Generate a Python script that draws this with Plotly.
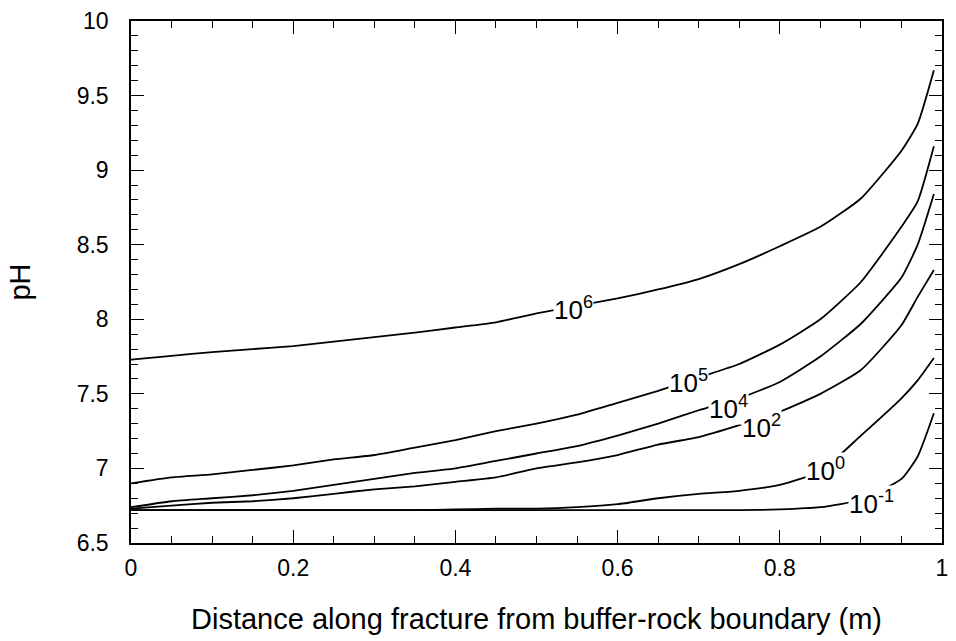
import plotly.graph_objects as go

x = [0, 0.05, 0.1, 0.15, 0.2, 0.25, 0.3, 0.35, 0.4, 0.45, 0.5, 0.55, 0.6,
     0.65, 0.7, 0.75, 0.8, 0.85, 0.9, 0.95, 0.97, 0.99]

ph_1e6 = [7.73, 7.755, 7.78, 7.80, 7.82, 7.85, 7.88, 7.91, 7.945, 7.98, 8.04, 8.09, 8.14,
          8.20, 8.27, 8.37, 8.49, 8.62, 8.81, 9.13, 9.31, 9.67]
ph_1e5 = [6.90, 6.94, 6.96, 6.99, 7.02, 7.06, 7.09, 7.14, 7.19, 7.25, 7.30, 7.36, 7.44,
          7.52, 7.61, 7.70, 7.83, 8.00, 8.25, 8.62, 8.79, 9.16]
ph_1e4 = [6.74, 6.78, 6.80, 6.82, 6.85, 6.89, 6.93, 6.97, 7.00, 7.05, 7.10, 7.15, 7.22,
          7.30, 7.39, 7.47, 7.58, 7.75, 7.97, 8.28, 8.50, 8.84]
ph_1e2 = [6.73, 6.75, 6.77, 6.78, 6.80, 6.83, 6.86, 6.88, 6.91, 6.94, 7.00, 7.04, 7.09,
          7.16, 7.21, 7.29, 7.38, 7.50, 7.66, 7.96, 8.15, 8.33]
ph_1e0 = [6.72, 6.72, 6.72, 6.72, 6.72, 6.72, 6.72, 6.72, 6.725, 6.73, 6.73, 6.74, 6.76,
          6.80, 6.83, 6.85, 6.89, 6.98, 7.22, 7.47, 7.59, 7.74]
ph_1em1 = [6.72, 6.72, 6.72, 6.72, 6.72, 6.72, 6.72, 6.72, 6.72, 6.72, 6.72, 6.72, 6.72,
           6.72, 6.72, 6.72, 6.725, 6.74, 6.79, 6.93, 7.08, 7.37]

series = [ph_1e6, ph_1e5, ph_1e4, ph_1e2, ph_1e0, ph_1em1]
labels = ["10<sup>6</sup>", "10<sup>5</sup>", "10<sup>4</sup>", "10<sup>2</sup>",
          "10<sup>0</sup>", "10<sup>-1</sup>"]
label_x = [0.546, 0.687, 0.737, 0.777, 0.856, 0.913]
label_y = [8.07, 7.58, 7.41, 7.28, 6.99, 6.77]

x_ticks = [0, 0.2, 0.4, 0.6, 0.8, 1]
x_ticktext = ["0", "0.2", "0.4", "0.6", "0.8", "1"]
y_ticks = [6.5, 7, 7.5, 8, 8.5, 9, 9.5, 10]
y_ticktext = ["6.5", "7", "7.5", "8", "8.5", "9", "9.5", "10"]

fig = go.Figure()
for ys in series:
    fig.add_trace(go.Scatter(x=x, y=ys, mode="lines",
                             line=dict(color="black", width=1.8, shape="spline", smoothing=0.5),
                             showlegend=False, hoverinfo="skip"))
# invisible trace to draw the mirrored top/right axes
fig.add_trace(go.Scatter(x=[x[0]], y=[ph_1e6[0]], mode="lines", xaxis="x2", yaxis="y2",
                         line=dict(width=0), showlegend=False, hoverinfo="skip"))

for t, lx, ly in zip(labels, label_x, label_y):
    fig.add_annotation(x=lx, y=ly, text=t, showarrow=False,
                       font=dict(family="Arial", size=26, color="black"),
                       bgcolor="white", borderpad=0, xanchor="center", yanchor="middle")

axis_common = dict(showline=True, linecolor="black", linewidth=1.5,
                   ticks="inside", tickcolor="black",
                   ticklen=13, tickwidth=1.2, showgrid=False, zeroline=False,
                   tickfont=dict(family="Arial", size=23, color="black"))
xminor = dict(dtick=0.05, tick0=0, ticks="inside", ticklen=7, tickcolor="black", tickwidth=1)
yminor = dict(dtick=0.1, tick0=6.5, ticks="inside", ticklen=7, tickcolor="black", tickwidth=1)

fig.update_layout(
    width=956, height=641, margin=dict(l=131, r=8, t=20, b=98),
    paper_bgcolor="white", plot_bgcolor="white",
    xaxis=dict(range=[0, 1], tickvals=x_ticks, ticktext=x_ticktext, minor=xminor,
               title=dict(text="Distance along fracture from buffer-rock boundary (m)",
                          font=dict(family="Arial", size=29, color="black"), standoff=28),
               ticklabelstandoff=4, **axis_common),
    yaxis=dict(range=[6.5, 10], tickvals=y_ticks, ticktext=y_ticktext, minor=yminor,
               title=dict(text="pH", font=dict(family="Arial", size=29, color="black"), standoff=38),
               ticklabelstandoff=16, **axis_common),
    xaxis2=dict(range=[0, 1], overlaying="x", side="top", anchor="y", tickvals=x_ticks,
                showticklabels=False, minor=xminor, **axis_common),
    yaxis2=dict(range=[6.5, 10], overlaying="y", side="right", anchor="x", tickvals=y_ticks,
                showticklabels=False, minor=yminor, **axis_common),
)

fig.write_html("out.html")
